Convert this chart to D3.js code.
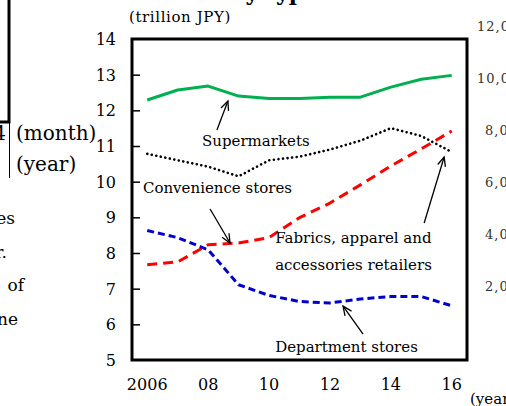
<!DOCTYPE html>
<html>
<head>
<meta charset="utf-8">
<script src="https://cdn.jsdelivr.net/npm/d3@7"></script>
<style>
    body { margin: 0; background: #fff; }
    svg { display: block; }
</style>
</head>
<body>
<svg id="chart" width="506" height="406" font-family="DejaVu Serif"></svg>
<script>
(function () {
    "use strict";

    // data (trillion JPY)
    var years = [2006, 2007, 2008, 2009, 2010, 2011, 2012, 2013, 2014, 2015, 2016];
    var supermarkets = [12.29, 12.57, 12.68, 12.40, 12.33, 12.33, 12.37, 12.37, 12.65, 12.87, 12.98];
    var convenience = [10.78, 10.60, 10.42, 10.15, 10.60, 10.70, 10.90, 11.15, 11.50, 11.28, 10.83];
    var fabrics = [7.67, 7.75, 8.23, 8.28, 8.43, 8.99, 9.40, 9.91, 10.44, 10.92, 11.42];
    var department = [8.63, 8.43, 8.09, 7.11, 6.81, 6.64, 6.60, 6.71, 6.78, 6.78, 6.52];

    var yTicks = [5, 6, 7, 8, 9, 10, 11, 12, 13, 14];
    var xTicks = [2006, 2008, 2010, 2012, 2014, 2016];
    var xTickLabels = ["2006", "08", "10", "12", "14", "16"];
    var rightTicks = ["12,000", "10,000", "8,000", "6,000", "4,000", "2,000"];

    var series = [
        {name: "Supermarkets", values: supermarkets, color: "#00b050", dash: null, width: 3, cap: "butt"},
        {name: "Convenience stores", values: convenience, color: "#000", dash: "0.1 4.5", width: 2.6, cap: "round"},
        {name: "Fabrics", values: fabrics, color: "#ff0000", dash: "10 6", width: 3, cap: "butt"},
        {name: "Department stores", values: department, color: "#0000cc", dash: "7 4", width: 3, cap: "butt"}
    ];

    // labels with arrow tip in data units, tail offset in px
    var notes = [
        {lines: ["Supermarkets"], tx: 2007.8, ty: 11.0, tip: [2008.65, 12.26], tail: [-11, 29]},
        {lines: ["Convenience stores"], tx: 2005.86, ty: 9.68, tip: [2008.72, 8.28], tail: [-20, -34]},
        {lines: ["Fabrics, apparel and", "accessories retailers"], tx: 2010.2, ty: 8.28, tip: [2015.75, 10.69], tail: [-20, 66]},
        {lines: ["Department stores"], tx: 2010.2, ty: 5.23, tip: [2012.43, 6.51], tail: [20, 28]}
    ];

    var svg = d3.select("#chart");
    var left = 132, right = 467, top = 39, bottom = 360;

    var x = d3.scaleLinear().domain([2005.5, 2016.5]).range([left, right]);
    var y = d3.scaleLinear().domain([5, 14]).range([bottom, top]);

    // bits of the page around the chart (cropped)
    svg.append("text")
        .attr("x", 224).attr("y", 0).attr("text-anchor", "end")
        .style("font-size", "22px").style("font-weight", "bold")
        .text("Sales");
    svg.append("text")
        .attr("x", 230).attr("y", 0)
        .style("font-size", "22px").style("font-weight", "bold")
        .text("by type");

    svg.append("path")
        .attr("d", "M9,0V122H0")
        .attr("fill", "none").attr("stroke", "#000").attr("stroke-width", 3);
    svg.append("line")
        .attr("x1", 9.5).attr("x2", 9.5).attr("y1", 122).attr("y2", 178)
        .attr("stroke", "#000").attr("stroke-width", 1);
    svg.append("text").attr("x", 6).attr("y", 140).attr("text-anchor", "end")
        .style("font-size", "20px").text("4");
    svg.append("text").attr("x", 16).attr("y", 140)
        .style("font-size", "20px").text("(month)");
    svg.append("text").attr("x", 16).attr("y", 171)
        .style("font-size", "20px").text("(year)");

    var sideText = [["stores", 15, 224], ["year.", 7, 258], ["of", 24, 291], ["one", 18, 325]];
    svg.selectAll(".side")
        .data(sideText)
        .enter().append("text")
        .attr("class", "side")
        .attr("x", function (d) { return d[1]; })
        .attr("y", function (d) { return d[2]; })
        .attr("text-anchor", "end")
        .style("font-size", "17px")
        .text(function (d) { return d[0]; });

    svg.selectAll(".rtick")
        .data(rightTicks)
        .enter().append("text")
        .attr("class", "rtick")
        .attr("x", function (d) { return d.length > 5 ? 477 : 485; })
        .attr("y", function (d, i) { return 31 + i * 52; })
        .style("font-size", "13px")
        .style("letter-spacing", "1px")
        .style("fill", "#333")
        .text(function (d) { return d; });

    svg.append("text")
        .attr("x", 470).attr("y", 404)
        .style("font-size", "15px")
        .text("(year)");

    // unit
    svg.append("text")
        .attr("x", 129).attr("y", 22)
        .style("font-size", "15px")
        .style("letter-spacing", "0.6px")
        .text("(trillion JPY)");

    // y axis ticks, inside
    var yAxis = d3.axisRight(y).tickValues(yTicks.slice(1, -1)).tickSize(8).tickFormat("");
    svg.append("g")
        .attr("transform", "translate(" + left + ",0)")
        .call(yAxis)
        .call(function (g) {
            g.select(".domain").remove();
            g.selectAll("line").attr("stroke", "#000").attr("stroke-width", 1.5);
        });

    svg.selectAll(".ylab")
        .data(yTicks)
        .enter().append("text")
        .attr("class", "ylab")
        .attr("x", 116)
        .attr("y", function (d) { return y(d) + 6; })
        .attr("text-anchor", "end")
        .style("font-size", "16px")
        .text(function (d) { return d; });

    svg.selectAll(".xlab")
        .data(xTicks)
        .enter().append("text")
        .attr("class", "xlab")
        .attr("x", function (d) { return x(d); })
        .attr("y", 390)
        .attr("text-anchor", "middle")
        .style("font-size", "16px")
        .text(function (d, i) { return xTickLabels[i]; });

    // lines
    var line = d3.line()
        .x(function (d, i) { return x(years[i]); })
        .y(function (d) { return y(d); });

    svg.selectAll(".series")
        .data(series)
        .enter().append("path")
        .attr("class", "series")
        .attr("d", function (s) { return line(s.values); })
        .attr("fill", "none")
        .attr("stroke", function (s) { return s.color; })
        .attr("stroke-width", function (s) { return s.width; })
        .attr("stroke-dasharray", function (s) { return s.dash; })
        .attr("stroke-linecap", function (s) { return s.cap; })
        .attr("stroke-linejoin", "round");

    // frame
    svg.append("rect")
        .attr("x", left).attr("y", top)
        .attr("width", right - left).attr("height", bottom - top)
        .attr("fill", "none").attr("stroke", "#000").attr("stroke-width", 3);

    // arrow head
    svg.append("defs").append("marker")
        .attr("id", "head")
        .attr("viewBox", "-10 -5 12 10")
        .attr("refX", 0).attr("refY", 0)
        .attr("markerWidth", 12).attr("markerHeight", 10)
        .attr("markerUnits", "userSpaceOnUse")
        .attr("orient", "auto")
        .append("path")
        .attr("d", "M-9,-4L0,0L-9,4")
        .attr("fill", "none").attr("stroke", "#000").attr("stroke-width", 1.3);

    var g = svg.selectAll(".note")
        .data(notes)
        .enter().append("g")
        .attr("class", "note");

    g.append("line")
        .attr("x1", function (d) { return x(d.tip[0]) + d.tail[0]; })
        .attr("y1", function (d) { return y(d.tip[1]) + d.tail[1]; })
        .attr("x2", function (d) { return x(d.tip[0]); })
        .attr("y2", function (d) { return y(d.tip[1]); })
        .attr("stroke", "#000").attr("stroke-width", 1.3)
        .attr("marker-end", "url(#head)");

    g.each(function (d) {
        var t = d3.select(this);
        d.lines.forEach(function (s, i) {
            t.append("text")
                .attr("x", x(d.tx))
                .attr("y", y(d.ty) + i * 27)
                .style("font-size", "15px")
                .text(s);
        });
    });
}());
</script>
</body>
</html>
